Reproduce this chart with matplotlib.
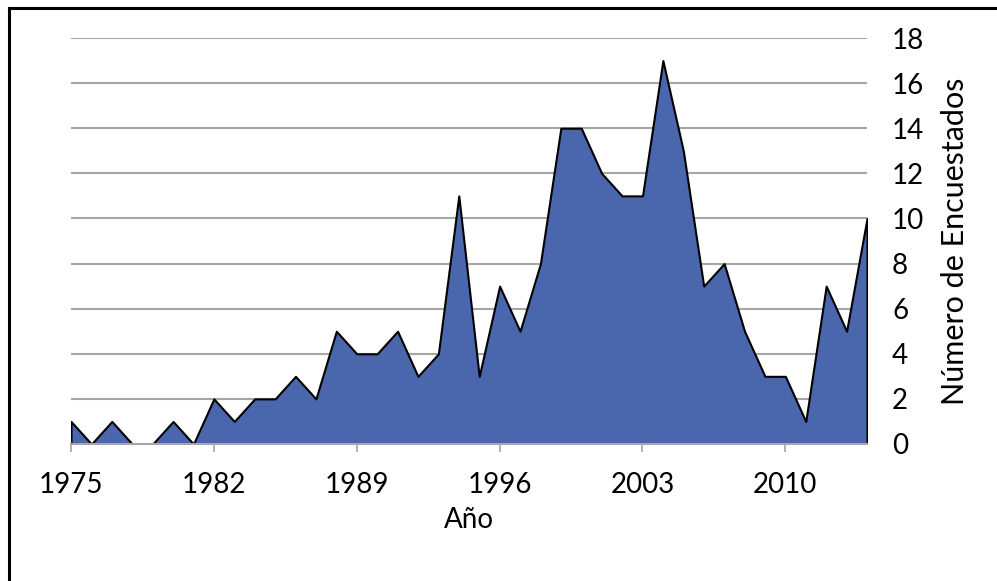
import matplotlib.pyplot as plt
from matplotlib.lines import Line2D

years = list(range(1975, 2015))
encuestados = [1, 0, 1, 0, 0, 1, 0, 2, 1, 2,
               2, 3, 2, 5, 4, 4, 5, 3, 4, 11,
               3, 7, 5, 8, 14, 14, 12, 11, 11, 17,
               13, 7, 8, 5, 3, 3, 1, 7, 5, 10]
xticks = [1975, 1982, 1989, 1996, 2003, 2010]
yticks = list(range(0, 19, 2))

plt.rcParams['font.family'] = ['Lato', 'DejaVu Sans']

fig = plt.figure(figsize=(9.97, 5.81), dpi=100)
ax = fig.add_axes([71 / 997, 1 - 444 / 581, (867 - 71) / 997, (444 - 38) / 581])

ax.fill_between(years, encuestados, 0, facecolor='#4a67ad', edgecolor='black',
                linewidth=1.5, zorder=2)

ax.set_xlim(1975, 2014)
ax.set_ylim(0, 18)
ax.set_xticks(xticks)
ax.set_yticks(yticks)
ax.yaxis.tick_right()
ax.yaxis.set_label_position('right')
ax.grid(axis='y', color='#a6a6a6', linewidth=1.5, zorder=1)
ax.set_axisbelow(True)

for s in ['top', 'left', 'right']:
    ax.spines[s].set_visible(False)
ax.spines['bottom'].set_color('#a6a6a6')
ax.spines['bottom'].set_linewidth(1.5)
ax.spines['bottom'].set_zorder(3)

ax.tick_params(axis='x', direction='out', length=6, width=1.2, color='#a6a6a6',
               labelsize=20, pad=14)
ax.tick_params(axis='y', length=0, labelsize=20, pad=18)

ax.set_xlabel('Año', fontsize=20, labelpad=7)
ax.set_ylabel('Número de Encuestados', fontsize=22, labelpad=12)

# borde del área del gráfico (solo arriba e izquierda visibles)
fig.add_artist(Line2D([9 / 997, 9 / 997], [0, 1 - 8 / 581], color='black', lw=2.2))
fig.add_artist(Line2D([9 / 997, 1], [1 - 8 / 581, 1 - 8 / 581], color='black', lw=2.2))

plt.savefig('out.png', dpi=100)
